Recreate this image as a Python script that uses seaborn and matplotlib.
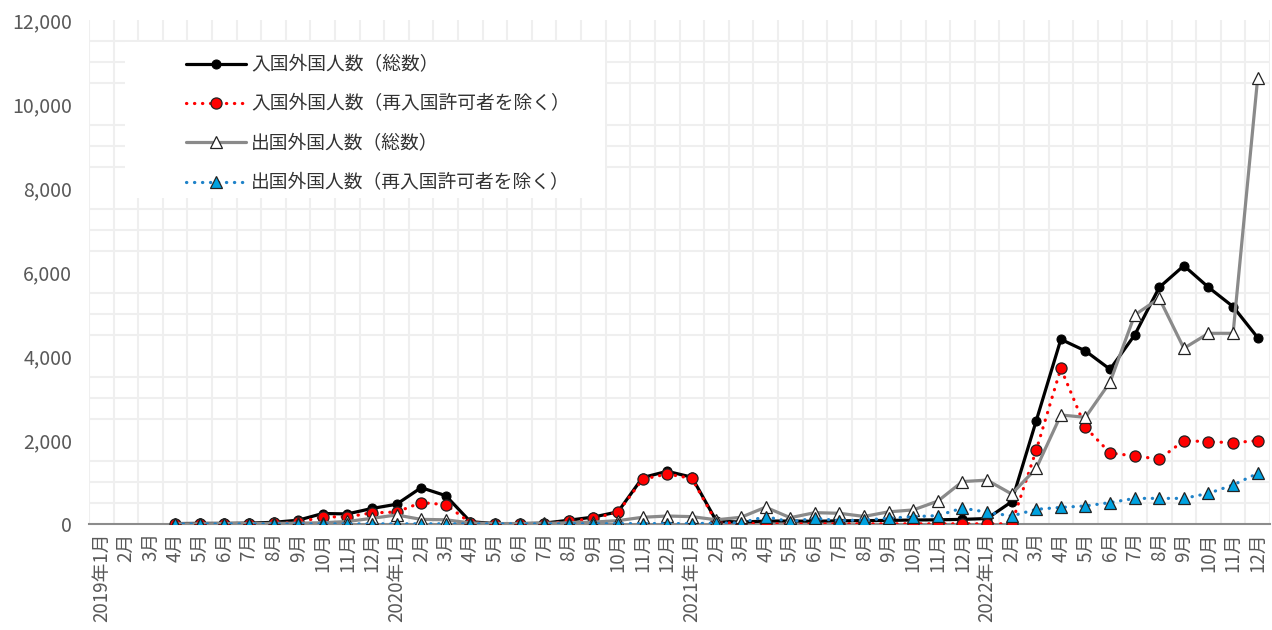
import numpy as np
import pandas as pd
import matplotlib
matplotlib.use("Agg")
import matplotlib.pyplot as plt
from matplotlib.patches import Rectangle
from matplotlib.ticker import FuncFormatter
import seaborn as sns

sns.set_theme(style="white")
plt.rcParams["font.family"] = ["Noto Sans CJK JP", "DejaVu Sans"]

# Month labels, 2019-01 .. 2022-12
years = [2019, 2020, 2021, 2022]
month_labels = [f"{y}年1月" if m == 1 else f"{m}月" for y in years for m in range(1, 13)]

nan = np.nan
# 入国外国人数（総数）
entry_total = [nan, nan, nan, 10, 15, 15, 20, 40, 90, 250, 240, 370,
               470, 865, 675, 55, 10, 10, 20, 90, 165, 290, 1105, 1255,
               1115, 70, 45, 70, 70, 65, 75, 80, 85, 95, 100, 110,
               130, 530, 2460, 4397, 4120, 3683, 4500, 5635, 6150, 5635, 5175, 4437]
# 入国外国人数（再入国許可者を除く）
entry_excl = [nan, nan, nan, 0, 0, 0, 5, 15, 40, 170, 170, 265,
              285, 510, 460, 30, 5, 5, 10, 60, 135, 280, 1065, 1190,
              1085, 40, 15, 5, 5, 5, 5, 5, 5, 5, 5, 5,
              5, 5, 1760, 3707, 2300, 1690, 1620, 1545, 1985, 1960, 1935, 1985]
# 出国外国人数（総数）
exit_total = [nan, nan, nan, 5, 5, 10, 10, 15, 20, 30, 60, 135,
              215, 110, 100, 25, 10, 10, 15, 30, 45, 80, 160, 190,
              175, 100, 160, 400, 150, 270, 255, 180, 290, 335, 545, 1010,
              1045, 715, 1325, 2595, 2540, 3380, 4976, 5373, 4183, 4540, 4540, 10627]
# 出国外国人数（再入国許可者を除く）
exit_excl = [nan, nan, nan, 2, 2, 2, 2, 2, 2, 3, 3, 3,
             5, 5, 5, 3, 3, 3, 3, 5, 5, 8, 10, 10,
             10, 20, 30, 175, 55, 135, 80, 95, 135, 175, 200, 380,
             280, 190, 350, 395, 430, 510, 610, 610, 610, 730, 930, 1205]

series_names = ["入国外国人数（総数）", "入国外国人数（再入国許可者を除く）",
                "出国外国人数（総数）", "出国外国人数（再入国許可者を除く）"]

df = pd.DataFrame({
    "idx": np.arange(len(month_labels)),
    series_names[0]: entry_total,
    series_names[1]: entry_excl,
    series_names[2]: exit_total,
    series_names[3]: exit_excl,
})

fig = plt.figure(figsize=(12.72, 6.30), dpi=100)
ax = fig.add_axes([89 / 1272, 1 - 524 / 630, (1270 - 89) / 1272, (524 - 20) / 630])

dot = (0, (0.1, 2.4))
styles = [
    dict(color="black", lw=2.3, linestyle="-", marker="o", markersize=6.5,
         markerfacecolor="black", markeredgecolor="black"),
    dict(color="#ff0000", lw=2.3, linestyle=dot, dash_capstyle="round", marker="o",
         markersize=8, markerfacecolor="#ff0000", markeredgecolor="#222222", markeredgewidth=0.9),
    dict(color="#8a8a8a", lw=2.3, linestyle="-", marker="^", markersize=8.5,
         markerfacecolor="white", markeredgecolor="#222222", markeredgewidth=0.9),
    dict(color="#1f82c8", lw=2.3, linestyle=dot, dash_capstyle="round", marker="^",
         markersize=8.5, markerfacecolor="#00a2e0", markeredgecolor="#222222", markeredgewidth=0.9),
]

for name, st in zip(series_names, styles):
    sns.lineplot(data=df, x="idx", y=name, ax=ax, label=name, zorder=3, **st)

ax.set_xlim(-0.5, len(month_labels) - 0.5)
ax.set_ylim(0, 12000)

# ticks and labels
ax.set_xticks(np.arange(len(month_labels)))
ax.set_xticklabels(month_labels, rotation=90, fontsize=13.5, color="#595959")
ax.set_yticks(np.arange(0, 12001, 2000))
ax.yaxis.set_major_formatter(FuncFormatter(lambda v, p: f"{int(v):,}"))
ax.tick_params(axis="y", labelsize=14, colors="#595959", length=0, pad=12)
ax.tick_params(axis="x", length=0, pad=6)
ax.set_xlabel("")
ax.set_ylabel("")

# fine grid: half-month columns, 500-step rows
ax.set_xticks(np.arange(-0.5, len(month_labels), 0.5), minor=True)
ax.set_yticks(np.arange(0, 12001, 500), minor=True)
ax.tick_params(which="minor", length=0)
ax.grid(False)
ax.grid(which="minor", color="#efefef", lw=1.5)
ax.set_axisbelow(True)

for s in ["top", "right", "left"]:
    ax.spines[s].set_visible(False)
ax.spines["bottom"].set_color("#8c8c8c")
ax.spines["bottom"].set_linewidth(1.5)
ax.spines["bottom"].set_zorder(2.5)

# white panel behind the legend
x0, x1 = 125, 605
y0, y1 = 42, 198
ax.add_patch(Rectangle(((x0 - 89) / (1270 - 89), (524 - y1) / (524 - 20)),
                       (x1 - x0) / (1270 - 89), (y1 - y0) / (524 - 20),
                       transform=ax.transAxes, facecolor="white", edgecolor="none", zorder=1))

leg = ax.legend(loc="upper left", bbox_to_anchor=(178 / 1272, 1 - 47 / 630),
                bbox_transform=fig.transFigure, frameon=False, fontsize=13.5,
                handlelength=3.2, handletextpad=0.3, labelspacing=0.97, borderaxespad=0)
for t in leg.get_texts():
    t.set_color("#333333")

fig.savefig("out.png", dpi=100, facecolor="white")
